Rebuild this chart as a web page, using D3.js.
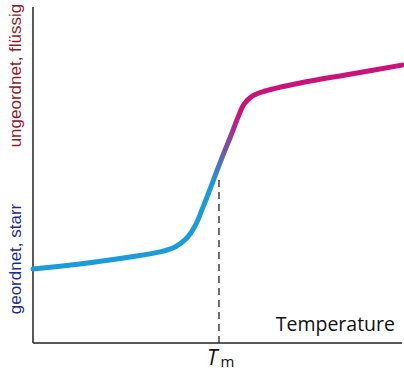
<!DOCTYPE html>
<html>
<head>
<meta charset="utf-8">
<script src="https://cdn.jsdelivr.net/npm/d3@7"></script>
<style>
  body { margin: 0; background: #fff; }
</style>
</head>
<body>
<svg width="404" height="370"></svg>
<script>
// temperature (arbitrary units) and state property (arbitrary units)
const temperature = [0, 12.7, 26.3, 34.4, 38.5, 41.5, 43.9, 46.1, 48.8, 51.2, 53.7, 55.6, 57.2, 59.4, 62.9, 72.4, 85.9, 100];
const property    = [22.0, 23.5, 25.6, 27.1, 28.6, 31.0, 34.8, 40.5, 48.2, 55.1, 61.9, 67.3, 71.1, 73.5, 75.0, 77.4, 80.0, 82.7];
const meltPoint = 50.4;
const meltLevel = 49.7;
const labelLow = 'geordnet, starr';
const labelHigh = 'ungeordnet, flüssig';
const xTitle = 'Temperature';

const svg = d3.select('svg');
const width = +svg.attr('width');
const height = +svg.attr('height');

const x = d3.scaleLinear().domain([0, 100]).range([33, 402]);
const y = d3.scaleLinear().domain([0, 100]).range([343, 7]);

const data = temperature.map((t, i) => ({ t: t, v: property[i] }));

// colour shift blue -> magenta across the transition
const grad = svg.append('defs').append('linearGradient')
    .attr('id', 'melt')
    .attr('gradientUnits', 'userSpaceOnUse')
    .attr('x1', 0).attr('x2', 0)
    .attr('y1', y(47)).attr('y2', y(68));
grad.append('stop').attr('offset', '0%').attr('stop-color', '#1b9bd8');
grad.append('stop').attr('offset', '100%').attr('stop-color', '#c8137b');

// axes
svg.append('line')
    .attr('x1', x(0)).attr('x2', x(0))
    .attr('y1', y(0)).attr('y2', y(100))
    .attr('stroke', '#222').attr('stroke-width', 1.5);
svg.append('line')
    .attr('x1', x(0)).attr('x2', x(100))
    .attr('y1', y(0)).attr('y2', y(0))
    .attr('stroke', '#222').attr('stroke-width', 1.5);

// melting point marker
svg.append('line')
    .attr('x1', x(meltPoint)).attr('x2', x(meltPoint))
    .attr('y1', y(0)).attr('y2', y(meltLevel))
    .attr('stroke', '#222')
    .attr('stroke-width', 1.3)
    .attr('stroke-dasharray', '7,5');

const line = d3.line()
    .x(d => x(d.t))
    .y(d => y(d.v))
    .curve(d3.curveCatmullRom.alpha(0.5));

svg.append('path')
    .datum(data)
    .attr('d', line)
    .attr('fill', 'none')
    .attr('stroke', 'url(#melt)')
    .attr('stroke-width', 5)
    .attr('stroke-linecap', 'round');

// y-side labels
svg.append('text')
    .attr('transform', `translate(21, ${y(25)}) rotate(-90)`)
    .attr('text-anchor', 'middle')
    .attr('font-family', 'Liberation Sans, Arial, sans-serif')
    .attr('font-size', 17)
    .attr('fill', '#1d2a96')
    .text(labelLow);
svg.append('text')
    .attr('transform', `translate(21, ${y(79.6)}) rotate(-90)`)
    .attr('text-anchor', 'middle')
    .attr('font-family', 'Liberation Sans, Arial, sans-serif')
    .attr('font-size', 17)
    .attr('fill', '#8e1a2e')
    .text(labelHigh);

// x title
svg.append('text')
    .attr('x', 395)
    .attr('y', 331)
    .attr('text-anchor', 'end')
    .attr('font-family', 'Open Sans, sans-serif')
    .attr('font-size', 19.5)
    .attr('fill', '#111')
    .text(xTitle);

// T_m
const tm = svg.append('text')
    .attr('x', x(meltPoint) - 12)
    .attr('y', 365)
    .attr('font-family', 'Open Sans, sans-serif')
    .attr('fill', '#111');
tm.append('tspan')
    .attr('font-style', 'italic')
    .attr('font-size', 21)
    .text('T');
tm.append('tspan')
    .attr('font-size', 15)
    .attr('dx', 3)
    .attr('dy', 2)
    .text('m');
</script>
</body>
</html>
